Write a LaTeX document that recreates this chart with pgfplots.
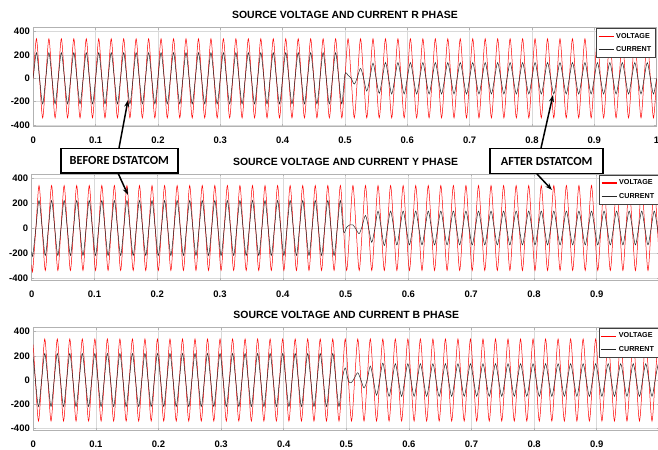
\documentclass[border=0pt]{standalone}
\usepackage{fontspec}
\setmainfont{Liberation Sans}
\newfontfamily\calibri{Carlito}
\usepackage{pgfplots}
\usepackage{pgfplotstable}
\pgfplotsset{compat=1.18}
\usetikzlibrary{arrows.meta}

% R phase: t, voltage, current (samples at zero crossings and peaks)
\pgfplotstableread[row sep=\\]{
t v i\\
0 0 0\\ 0.005 340 220\\ 0.01 0 0\\ 0.015 -340 -220\\
0.02 0 0\\ 0.025 340 220\\ 0.03 0 0\\ 0.035 -340 -220\\
0.04 0 0\\ 0.045 340 220\\ 0.05 0 0\\ 0.055 -340 -220\\
0.06 0 0\\ 0.065 340 220\\ 0.07 0 0\\ 0.075 -340 -220\\
0.08 0 0\\ 0.085 340 220\\ 0.09 0 0\\ 0.095 -340 -220\\
0.1 0 0\\ 0.105 340 220\\ 0.11 0 0\\ 0.115 -340 -220\\
0.12 0 0\\ 0.125 340 220\\ 0.13 0 0\\ 0.135 -340 -220\\
0.14 0 0\\ 0.145 340 220\\ 0.15 0 0\\ 0.155 -340 -220\\
0.16 0 0\\ 0.165 340 220\\ 0.17 0 0\\ 0.175 -340 -220\\
0.18 0 0\\ 0.185 340 220\\ 0.19 0 0\\ 0.195 -340 -220\\
0.2 0 0\\ 0.205 340 220\\ 0.21 0 0\\ 0.215 -340 -220\\
0.22 0 0\\ 0.225 340 220\\ 0.23 0 0\\ 0.235 -340 -220\\
0.24 0 0\\ 0.245 340 220\\ 0.25 0 0\\ 0.255 -340 -220\\
0.26 0 0\\ 0.265 340 220\\ 0.27 0 0\\ 0.275 -340 -220\\
0.28 0 0\\ 0.285 340 220\\ 0.29 0 0\\ 0.295 -340 -220\\
0.3 0 0\\ 0.305 340 220\\ 0.31 0 0\\ 0.315 -340 -220\\
0.32 0 0\\ 0.325 340 220\\ 0.33 0 0\\ 0.335 -340 -220\\
0.34 0 0\\ 0.345 340 220\\ 0.35 0 0\\ 0.355 -340 -220\\
0.36 0 0\\ 0.365 340 220\\ 0.37 0 0\\ 0.375 -340 -220\\
0.38 0 0\\ 0.385 340 220\\ 0.39 0 0\\ 0.395 -340 -220\\
0.4 0 0\\ 0.405 340 220\\ 0.41 0 0\\ 0.415 -340 -220\\
0.42 0 0\\ 0.425 340 220\\ 0.43 0 0\\ 0.435 -340 -220\\
0.44 0 0\\ 0.445 340 220\\ 0.45 0 0\\ 0.455 -340 -220\\
0.46 0 0\\ 0.465 340 220\\ 0.47 0 0\\ 0.475 -340 -220\\
0.48 0 0\\ 0.485 340 220\\ 0.49 0 0\\ 0.495 -340 -220\\
0.5 0 35\\ 0.505 340 25\\ 0.51 0 0\\ 0.515 -340 -50\\
0.52 0 10\\ 0.525 340 85\\ 0.53 0 0\\ 0.535 -340 -110\\
0.54 0 0\\ 0.545 340 130\\ 0.55 0 0\\ 0.555 -340 -130\\
0.56 0 0\\ 0.565 340 135\\ 0.57 0 0\\ 0.575 -340 -135\\
0.58 0 0\\ 0.585 340 135\\ 0.59 0 0\\ 0.595 -340 -135\\
0.6 0 0\\ 0.605 340 135\\ 0.61 0 0\\ 0.615 -340 -135\\
0.62 0 0\\ 0.625 340 135\\ 0.63 0 0\\ 0.635 -340 -135\\
0.64 0 0\\ 0.645 340 135\\ 0.65 0 0\\ 0.655 -340 -135\\
0.66 0 0\\ 0.665 340 135\\ 0.67 0 0\\ 0.675 -340 -135\\
0.68 0 0\\ 0.685 340 135\\ 0.69 0 0\\ 0.695 -340 -135\\
0.7 0 0\\ 0.705 340 135\\ 0.71 0 0\\ 0.715 -340 -135\\
0.72 0 0\\ 0.725 340 135\\ 0.73 0 0\\ 0.735 -340 -135\\
0.74 0 0\\ 0.745 340 135\\ 0.75 0 0\\ 0.755 -340 -135\\
0.76 0 0\\ 0.765 340 135\\ 0.77 0 0\\ 0.775 -340 -135\\
0.78 0 0\\ 0.785 340 135\\ 0.79 0 0\\ 0.795 -340 -135\\
0.8 0 0\\ 0.805 340 135\\ 0.81 0 0\\ 0.815 -340 -135\\
0.82 0 0\\ 0.825 340 135\\ 0.83 0 0\\ 0.835 -340 -135\\
0.84 0 0\\ 0.845 340 135\\ 0.85 0 0\\ 0.855 -340 -135\\
0.86 0 0\\ 0.865 340 135\\ 0.87 0 0\\ 0.875 -340 -135\\
0.88 0 0\\ 0.885 340 135\\ 0.89 0 0\\ 0.895 -340 -135\\
0.9 0 0\\ 0.905 340 135\\ 0.91 0 0\\ 0.915 -340 -135\\
0.92 0 0\\ 0.925 340 135\\ 0.93 0 0\\ 0.935 -340 -135\\
0.94 0 0\\ 0.945 340 135\\ 0.95 0 0\\ 0.955 -340 -135\\
0.96 0 0\\ 0.965 340 135\\ 0.97 0 0\\ 0.975 -340 -135\\
0.98 0 0\\ 0.985 340 135\\ 0.99 0 0\\ 0.995 -340 -135\\
1 0 0\\
}\tabR

% Y phase
\pgfplotstableread[row sep=\\]{
t v i\\
0 -294 -190\\
0.00167 -340 -220\\ 0.00667 0 0\\ 0.01167 340 220\\ 0.01667 0 0\\
0.02167 -340 -220\\ 0.02667 0 0\\ 0.03167 340 220\\ 0.03667 0 0\\
0.04167 -340 -220\\ 0.04667 0 0\\ 0.05167 340 220\\ 0.05667 0 0\\
0.06167 -340 -220\\ 0.06667 0 0\\ 0.07167 340 220\\ 0.07667 0 0\\
0.08167 -340 -220\\ 0.08667 0 0\\ 0.09167 340 220\\ 0.09667 0 0\\
0.10167 -340 -220\\ 0.10667 0 0\\ 0.11167 340 220\\ 0.11667 0 0\\
0.12167 -340 -220\\ 0.12667 0 0\\ 0.13167 340 220\\ 0.13667 0 0\\
0.14167 -340 -220\\ 0.14667 0 0\\ 0.15167 340 220\\ 0.15667 0 0\\
0.16167 -340 -220\\ 0.16667 0 0\\ 0.17167 340 220\\ 0.17667 0 0\\
0.18167 -340 -220\\ 0.18667 0 0\\ 0.19167 340 220\\ 0.19667 0 0\\
0.20167 -340 -220\\ 0.20667 0 0\\ 0.21167 340 220\\ 0.21667 0 0\\
0.22167 -340 -220\\ 0.22667 0 0\\ 0.23167 340 220\\ 0.23667 0 0\\
0.24167 -340 -220\\ 0.24667 0 0\\ 0.25167 340 220\\ 0.25667 0 0\\
0.26167 -340 -220\\ 0.26667 0 0\\ 0.27167 340 220\\ 0.27667 0 0\\
0.28167 -340 -220\\ 0.28667 0 0\\ 0.29167 340 220\\ 0.29667 0 0\\
0.30167 -340 -220\\ 0.30667 0 0\\ 0.31167 340 220\\ 0.31667 0 0\\
0.32167 -340 -220\\ 0.32667 0 0\\ 0.33167 340 220\\ 0.33667 0 0\\
0.34167 -340 -220\\ 0.34667 0 0\\ 0.35167 340 220\\ 0.35667 0 0\\
0.36167 -340 -220\\ 0.36667 0 0\\ 0.37167 340 220\\ 0.37667 0 0\\
0.38167 -340 -220\\ 0.38667 0 0\\ 0.39167 340 220\\ 0.39667 0 0\\
0.40167 -340 -220\\ 0.40667 0 0\\ 0.41167 340 220\\ 0.41667 0 0\\
0.42167 -340 -220\\ 0.42667 0 0\\ 0.43167 340 220\\ 0.43667 0 0\\
0.44167 -340 -220\\ 0.44667 0 0\\ 0.45167 340 220\\ 0.45667 0 0\\
0.46167 -340 -220\\ 0.46667 0 0\\ 0.47167 340 220\\ 0.47667 0 0\\
0.48167 -340 -220\\ 0.48667 0 0\\ 0.49167 340 220\\ 0.49667 0 -30\\
0.50167 -340 5\\ 0.50667 0 25\\ 0.51167 340 25\\ 0.51667 0 -10\\
0.52167 -340 -45\\ 0.52667 0 20\\ 0.53167 340 100\\ 0.53667 0 0\\
0.54167 -340 -115\\ 0.54667 0 0\\ 0.55167 340 135\\ 0.55667 0 0\\
0.56167 -340 -140\\ 0.56667 0 0\\ 0.57167 340 135\\ 0.57667 0 0\\
0.58167 -340 -135\\ 0.58667 0 0\\ 0.59167 340 135\\ 0.59667 0 0\\
0.60167 -340 -135\\ 0.60667 0 0\\ 0.61167 340 135\\ 0.61667 0 0\\
0.62167 -340 -135\\ 0.62667 0 0\\ 0.63167 340 135\\ 0.63667 0 0\\
0.64167 -340 -135\\ 0.64667 0 0\\ 0.65167 340 135\\ 0.65667 0 0\\
0.66167 -340 -135\\ 0.66667 0 0\\ 0.67167 340 135\\ 0.67667 0 0\\
0.68167 -340 -135\\ 0.68667 0 0\\ 0.69167 340 135\\ 0.69667 0 0\\
0.70167 -340 -135\\ 0.70667 0 0\\ 0.71167 340 135\\ 0.71667 0 0\\
0.72167 -340 -135\\ 0.72667 0 0\\ 0.73167 340 135\\ 0.73667 0 0\\
0.74167 -340 -135\\ 0.74667 0 0\\ 0.75167 340 135\\ 0.75667 0 0\\
0.76167 -340 -135\\ 0.76667 0 0\\ 0.77167 340 135\\ 0.77667 0 0\\
0.78167 -340 -135\\ 0.78667 0 0\\ 0.79167 340 135\\ 0.79667 0 0\\
0.80167 -340 -135\\ 0.80667 0 0\\ 0.81167 340 135\\ 0.81667 0 0\\
0.82167 -340 -135\\ 0.82667 0 0\\ 0.83167 340 135\\ 0.83667 0 0\\
0.84167 -340 -135\\ 0.84667 0 0\\ 0.85167 340 135\\ 0.85667 0 0\\
0.86167 -340 -135\\ 0.86667 0 0\\ 0.87167 340 135\\ 0.87667 0 0\\
0.88167 -340 -135\\ 0.88667 0 0\\ 0.89167 340 135\\ 0.89667 0 0\\
0.90167 -340 -135\\ 0.90667 0 0\\ 0.91167 340 135\\ 0.91667 0 0\\
0.92167 -340 -135\\ 0.92667 0 0\\ 0.93167 340 135\\ 0.93667 0 0\\
0.94167 -340 -135\\ 0.94667 0 0\\ 0.95167 340 135\\ 0.95667 0 0\\
0.96167 -340 -135\\ 0.96667 0 0\\ 0.97167 340 135\\ 0.97667 0 0\\
0.98167 -340 -135\\ 0.98667 0 0\\ 0.99167 340 135\\ 0.99667 0 0\\
1 -294 -117\\
}\tabY

% B phase
\pgfplotstableread[row sep=\\]{
t v i\\
0 294 190\\
0.00333 0 0\\ 0.00833 -340 -220\\ 0.01333 0 0\\ 0.01833 340 220\\
0.02333 0 0\\ 0.02833 -340 -220\\ 0.03333 0 0\\ 0.03833 340 220\\
0.04333 0 0\\ 0.04833 -340 -220\\ 0.05333 0 0\\ 0.05833 340 220\\
0.06333 0 0\\ 0.06833 -340 -220\\ 0.07333 0 0\\ 0.07833 340 220\\
0.08333 0 0\\ 0.08833 -340 -220\\ 0.09333 0 0\\ 0.09833 340 220\\
0.10333 0 0\\ 0.10833 -340 -220\\ 0.11333 0 0\\ 0.11833 340 220\\
0.12333 0 0\\ 0.12833 -340 -220\\ 0.13333 0 0\\ 0.13833 340 220\\
0.14333 0 0\\ 0.14833 -340 -220\\ 0.15333 0 0\\ 0.15833 340 220\\
0.16333 0 0\\ 0.16833 -340 -220\\ 0.17333 0 0\\ 0.17833 340 220\\
0.18333 0 0\\ 0.18833 -340 -220\\ 0.19333 0 0\\ 0.19833 340 220\\
0.20333 0 0\\ 0.20833 -340 -220\\ 0.21333 0 0\\ 0.21833 340 220\\
0.22333 0 0\\ 0.22833 -340 -220\\ 0.23333 0 0\\ 0.23833 340 220\\
0.24333 0 0\\ 0.24833 -340 -220\\ 0.25333 0 0\\ 0.25833 340 220\\
0.26333 0 0\\ 0.26833 -340 -220\\ 0.27333 0 0\\ 0.27833 340 220\\
0.28333 0 0\\ 0.28833 -340 -220\\ 0.29333 0 0\\ 0.29833 340 220\\
0.30333 0 0\\ 0.30833 -340 -220\\ 0.31333 0 0\\ 0.31833 340 220\\
0.32333 0 0\\ 0.32833 -340 -220\\ 0.33333 0 0\\ 0.33833 340 220\\
0.34333 0 0\\ 0.34833 -340 -220\\ 0.35333 0 0\\ 0.35833 340 220\\
0.36333 0 0\\ 0.36833 -340 -220\\ 0.37333 0 0\\ 0.37833 340 220\\
0.38333 0 0\\ 0.38833 -340 -220\\ 0.39333 0 0\\ 0.39833 340 220\\
0.40333 0 0\\ 0.40833 -340 -220\\ 0.41333 0 0\\ 0.41833 340 220\\
0.42333 0 0\\ 0.42833 -340 -220\\ 0.43333 0 0\\ 0.43833 340 220\\
0.44333 0 0\\ 0.44833 -340 -220\\ 0.45333 0 0\\ 0.45833 340 220\\
0.46333 0 0\\ 0.46833 -340 -220\\ 0.47333 0 0\\ 0.47833 340 220\\
0.48333 0 0\\ 0.48833 -340 -220\\ 0.49333 0 0\\ 0.49833 340 100\\
0.50333 0 -10\\ 0.50833 -340 -20\\ 0.51333 0 20\\ 0.51833 340 60\\
0.52333 0 0\\ 0.52833 -340 -65\\ 0.53333 0 0\\ 0.53833 340 115\\
0.54333 0 0\\ 0.54833 -340 -125\\ 0.55333 0 0\\ 0.55833 340 140\\
0.56333 0 0\\ 0.56833 -340 -135\\ 0.57333 0 0\\ 0.57833 340 135\\
0.58333 0 0\\ 0.58833 -340 -135\\ 0.59333 0 0\\ 0.59833 340 135\\
0.60333 0 0\\ 0.60833 -340 -135\\ 0.61333 0 0\\ 0.61833 340 135\\
0.62333 0 0\\ 0.62833 -340 -135\\ 0.63333 0 0\\ 0.63833 340 135\\
0.64333 0 0\\ 0.64833 -340 -135\\ 0.65333 0 0\\ 0.65833 340 135\\
0.66333 0 0\\ 0.66833 -340 -135\\ 0.67333 0 0\\ 0.67833 340 135\\
0.68333 0 0\\ 0.68833 -340 -135\\ 0.69333 0 0\\ 0.69833 340 135\\
0.70333 0 0\\ 0.70833 -340 -135\\ 0.71333 0 0\\ 0.71833 340 135\\
0.72333 0 0\\ 0.72833 -340 -135\\ 0.73333 0 0\\ 0.73833 340 135\\
0.74333 0 0\\ 0.74833 -340 -135\\ 0.75333 0 0\\ 0.75833 340 135\\
0.76333 0 0\\ 0.76833 -340 -135\\ 0.77333 0 0\\ 0.77833 340 135\\
0.78333 0 0\\ 0.78833 -340 -135\\ 0.79333 0 0\\ 0.79833 340 135\\
0.80333 0 0\\ 0.80833 -340 -135\\ 0.81333 0 0\\ 0.81833 340 135\\
0.82333 0 0\\ 0.82833 -340 -135\\ 0.83333 0 0\\ 0.83833 340 135\\
0.84333 0 0\\ 0.84833 -340 -135\\ 0.85333 0 0\\ 0.85833 340 135\\
0.86333 0 0\\ 0.86833 -340 -135\\ 0.87333 0 0\\ 0.87833 340 135\\
0.88333 0 0\\ 0.88833 -340 -135\\ 0.89333 0 0\\ 0.89833 340 135\\
0.90333 0 0\\ 0.90833 -340 -135\\ 0.91333 0 0\\ 0.91833 340 135\\
0.92333 0 0\\ 0.92833 -340 -135\\ 0.93333 0 0\\ 0.93833 340 135\\
0.94333 0 0\\ 0.94833 -340 -135\\ 0.95333 0 0\\ 0.95833 340 135\\
0.96333 0 0\\ 0.96833 -340 -135\\ 0.97333 0 0\\ 0.97833 340 135\\
0.98333 0 0\\ 0.98833 -340 -135\\ 0.99333 0 0\\ 0.99833 340 135\\
1 294 117\\
}\tabB

\pgfplotsset{
  panel/.style={
    scale only axis,
    anchor=south west,
    xmin=0, xmax=1,
    ytick={-400,-200,0,200,400},
    grid=major,
    grid style={gray!30, line width=0.5bp},
    axis line style={gray!60, line width=0.8bp},
    tick style={gray!60, line width=0.5bp},
    tick align=inside,
    major tick length=2.5bp,
    ticklabel style={font=\bfseries\fontsize{9.5}{10}\selectfont},
    /pgf/number format/assume math mode=true,
    xticklabel style={yshift=-7bp},
    every axis title/.style={at={(0.5,1)}, anchor=south, yshift=5bp,
      font=\bfseries\fontsize{10.5}{12}\selectfont},
    legend style={at={(1,1)}, anchor=north east, xshift=-1bp, yshift=-1bp,
      draw=black!75, line width=0.6bp, fill=white,
      font=\bfseries\fontsize{7.2}{8}\selectfont,
      inner xsep=2bp, inner ysep=2.5bp, row sep=3bp},
    legend cell align=left,
  },
  volt/.style={color=red, draw=red, line width=0.5bp, smooth, mark=none},
  curr/.style={color=black!85, draw=black!85, line width=0.5bp, smooth, mark=none},
  vkey/.style={draw=red, line width=1.1bp},
  ckey/.style={draw=black!85, line width=1.1bp},
  key/.style={legend image code/.code={\draw[#1] (0bp,0bp) -- (15bp,0bp);}},
}

\begin{document}
\begin{tikzpicture}
% R phase
\begin{axis}[panel, key, at={(33.3bp,-126bp)}, width=623.3bp, height=98.7bp,
  ymin=-410, ymax=438,
  xtick={0,0.1,0.2,0.3,0.4,0.5,0.6,0.7,0.8,0.9,1},
  title={SOURCE VOLTAGE AND CURRENT R PHASE}]
\addlegendimage{vkey}
\addlegendimage{ckey}
\addplot[volt, forget plot] table[x=t, y=v] {\tabR};
\addplot[curr, forget plot] table[x=t, y=i] {\tabR};
\legend{VOLTAGE, CURRENT}
\end{axis}
% Y phase
\begin{axis}[panel, key, at={(31.7bp,-280bp)}, width=627.8bp, height=106bp,
  ymin=-416, ymax=432,
  xtick={0,0.1,0.2,0.3,0.4,0.5,0.6,0.7,0.8,0.9},
  title={SOURCE VOLTAGE AND CURRENT Y PHASE}]
\addlegendimage{vkey}
\addlegendimage{ckey}
\addplot[volt, forget plot] table[x=t, y=v] {\tabY};
\addplot[curr, forget plot] table[x=t, y=i] {\tabY};
\legend{VOLTAGE, CURRENT}
\end{axis}
% B phase
\begin{axis}[panel, key, at={(33.3bp,-430bp)}, width=626bp, height=103bp,
  ymin=-414, ymax=439,
  xtick={0,0.1,0.2,0.3,0.4,0.5,0.6,0.7,0.8,0.9},
  title={SOURCE VOLTAGE AND CURRENT B PHASE}]
\addlegendimage{vkey}
\addlegendimage{ckey}
\addplot[volt, forget plot] table[x=t, y=v] {\tabB};
\addplot[curr, forget plot] table[x=t, y=i] {\tabB};
\legend{VOLTAGE, CURRENT}
\end{axis}

% annotation boxes and arrows
\tikzset{callout/.style={draw=black, line width=1.6bp, fill=white, inner sep=0pt,
  font=\calibri\bfseries\fontsize{12.4}{14}\selectfont},
  pointer/.style={-{Stealth[length=7bp, width=5bp]}, line width=1.5bp}}
\draw[pointer] (119bp,-148bp) -- (128bp,-100bp);
\draw[pointer] (118bp,-173bp) -- (128bp,-195bp);
\draw[pointer] (541bp,-148bp) -- (553bp,-95bp);
\draw[pointer] (537bp,-174bp) -- (552bp,-190bp);
\node[callout, minimum width=117bp, minimum height=24.4bp] at (119.3bp,-160.5bp) {BEFORE DSTATCOM};
\node[callout, minimum width=113bp, minimum height=25bp] at (546.7bp,-161bp) {AFTER DSTATCOM};

\pgfresetboundingbox
\path[use as bounding box] (0bp,0bp) rectangle (658bp,-450bp);
\end{tikzpicture}
\end{document}
